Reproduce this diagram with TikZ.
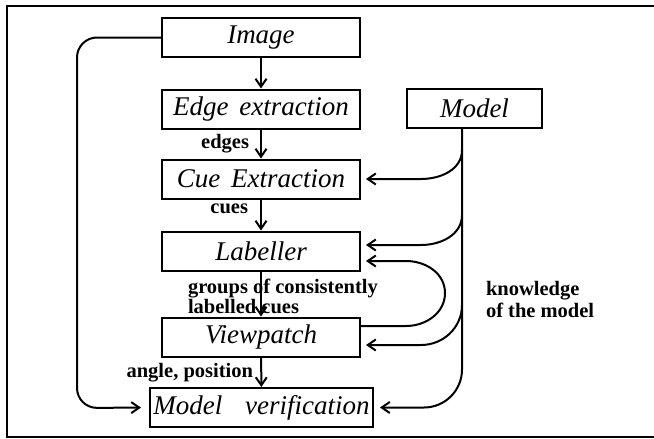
\documentclass[tikz,border=0pt]{standalone}
\usepackage{fontspec}
\setmainfont{Liberation Serif}
\usetikzlibrary{arrows.meta}
\begin{document}
\begin{tikzpicture}[x=1pt,y=-1pt, line width=2pt,
  box/.style={draw, inner sep=0pt, font=\fontsize{27}{30}\selectfont\itshape, minimum height=39pt},
  lbl/.style={font=\fontsize{20.5}{17}\selectfont\bfseries, inner sep=0pt},
  lblg/.style={font=\fontsize{20.5}{16}\selectfont\bfseries, inner sep=0pt, align=left},
  lblk/.style={font=\fontsize{20.5}{22}\selectfont\bfseries, inner sep=0pt, align=left},
  >={Straight Barb[length=8pt,width=11pt]},
  ]
\useasboundingbox (0,0) rectangle (654,439);
\draw (654,6) -- (7,6) -- (7,437) -- (654,437);
% boxes
\node[box, minimum width=198pt] (img)   at (261,37.5) {Image};
\node[box, minimum width=198pt] (edge)  at (261,109)  {Edge\hspace{0.4em}extraction};
\node[box, minimum width=198pt] (cue)   at (261,179)  {Cue\hspace{0.4em}Extraction};
\node[box, minimum width=198pt] (lab)   at (261,251)  {Labeller};
\node[box, minimum width=198pt] (vp)    at (261,337)  {Viewpatch};
\node[box, minimum width=223pt] (mv)    at (261.5,407.5) {Model\hspace{0.85em}verification};
\node[box, minimum width=135pt] (model) at (474.5,108.5) {Model};
% main chain
\draw[->] (img) -- (edge);
\draw[->] (edge) -- (cue);
\draw[->] (cue) -- (lab);
\draw[->] (lab) -- (vp);
\draw[->] (vp) -- (mv);
% labels
\node[lbl, anchor=base east] (tedges) at (250,148) {edges};
\node[lbl, anchor=base east] (tcues) at (249,213) {cues};
\node[lblg, anchor=north west] (tgroups) at (187,278) {groups of consistently\\labelled cues};
\node[lbl, anchor=base east] (tangle) at (254,377) {angle, position};
\node[lblk, anchor=north west] (tknow) at (485,280) {knowledge\\of the model};
% left loop
\draw[->, rounded corners=20pt, shorten >=8pt] (img.west) -- (77,37.5) -- (77,408) -- (mv.west);
% model trunk
\coordinate (mtop) at ([xshift=-12.5pt]model.south);
\draw[->, rounded corners=38pt, shorten >=6pt] (mtop) |- (mv.east);
\coordinate (s1) at (462,150);
\coordinate (s2) at (462,215);
\coordinate (s3) at (462,305);
\draw[->, shorten >=5pt] (s1) to[out=-90,in=0] ([xshift=60pt]cue.east) -- (cue.east);
\draw[->, shorten >=5pt] (s2) to[out=-90,in=0] ([xshift=60pt,yshift=6pt]lab.east) -- ([yshift=6pt]lab.east);
\draw[->, shorten >=5pt] (s3) to[out=-90,in=0] ([xshift=60pt,yshift=-8pt]vp.east) -- ([yshift=-8pt]vp.east);
% feedback loop viewpatch -> labeller
\coordinate (loopR) at (445,293);
\draw[->, shorten >=5pt] ([yshift=11pt]vp.east) -- ([xshift=45pt,yshift=11pt]vp.east)
  to[out=0,in=-90] (loopR) to[out=90,in=0] ([xshift=45pt,yshift=-10pt]lab.east) -- ([yshift=-10pt]lab.east);
\end{tikzpicture}
\end{document}
